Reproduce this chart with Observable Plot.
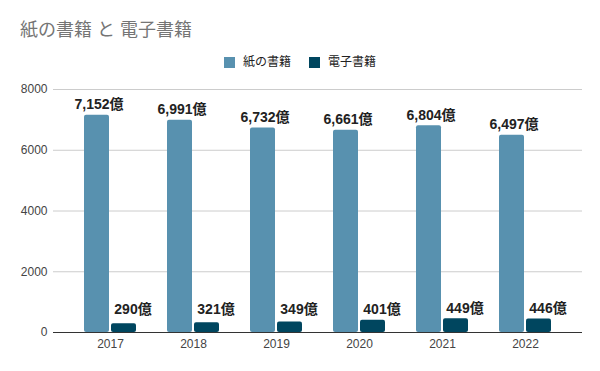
<!DOCTYPE html>
<html>
<head>
<meta charset="utf-8">
<script src="https://cdn.jsdelivr.net/npm/d3@7"></script>
<script src="https://cdn.jsdelivr.net/npm/@observablehq/plot@0.6"></script>
<style>
  html, body { margin: 0; padding: 0; background: #fff; }
  body { width: 600px; height: 371px; overflow: hidden; font-family: "Liberation Sans", Arial, "Noto Sans CJK JP", sans-serif; }
  #header { position: relative; height: 75px; }
  #title { position: absolute; left: 20px; top: 18px; font-size: 18px; color: #757575; white-space: nowrap; line-height: 24px; }
  #legend { position: absolute; left: 0; width: 600px; top: 55px; display: flex; justify-content: center; font-size: 12px; color: #222; line-height: 14px; }
  .item { display: flex; align-items: center; margin: 0 9px; }
  .sw { width: 11px; height: 11px; margin-right: 8px; }
</style>
</head>
<body>
<div id="header">
  <div id="title">紙の書籍 と 電子書籍</div>
  <div id="legend"></div>
</div>
<div id="chart"></div>
<script>
const years = ["2017", "2018", "2019", "2020", "2021", "2022"];
const seriesNames = ["紙の書籍", "電子書籍"];
const paper = [7152, 6991, 6732, 6661, 6804, 6497];
const ebook = [290, 321, 349, 401, 449, 446];
const colors = ["#5891AF", "#00465F"];
const yTicks = [0, 2000, 4000, 6000, 8000];

const paperData = years.map((y, i) => ({year: y, value: paper[i], series: seriesNames[0]}));
const ebookData = years.map((y, i) => ({year: y, value: ebook[i], series: seriesNames[1]}));
const fmt = d3.format(",");

const legend = document.getElementById("legend");
seriesNames.forEach((n, i) => {
  const it = document.createElement("div");
  it.className = "item";
  it.innerHTML = `<span class="sw" style="background:${colors[i]}"></span><span>${n}</span>`;
  legend.appendChild(it);
});

const chart = Plot.plot({
  width: 600,
  height: 296,
  marginTop: 14,
  marginBottom: 39,
  marginLeft: 53,
  marginRight: 18,
  style: {fontFamily: '"Liberation Sans", Arial, "Noto Sans CJK JP", sans-serif', fontSize: "12px", color: "#444", background: "transparent"},
  x: {domain: years, paddingInner: 0.375, paddingOuter: 0.367, label: null, tickSize: 0, tickPadding: 7},
  y: {domain: [0, 8000], ticks: yTicks, tickFormat: d => String(d), tickSize: 0, tickPadding: 6, label: null},
  marks: [
    Plot.ruleY(yTicks.slice(1), {stroke: "#cccccc", strokeWidth: 1}),
    Plot.barY(paperData, {x: "year", y: "value", fill: colors[0], insetRight: 27, rx: 2}),
    Plot.barY(ebookData, {x: "year", y: "value", fill: colors[1], insetLeft: 27, rx: 2}),
    Plot.ruleY([0], {stroke: "#333333", strokeWidth: 1}),
    Plot.text(paperData, {x: "year", y: "value", text: d => fmt(d.value) + "億", dx: -11.5, dy: -6, lineAnchor: "bottom", fontSize: 14, fontWeight: "bold", fill: "#222"}),
    Plot.text(ebookData, {x: "year", y: d => Math.max(d.value, 420), text: d => fmt(d.value) + "億", dx: 22.5, dy: -6, lineAnchor: "bottom", fontSize: 14, fontWeight: "bold", fill: "#222"})
  ]
});
document.getElementById("chart").appendChild(chart);
</script>
</body>
</html>
